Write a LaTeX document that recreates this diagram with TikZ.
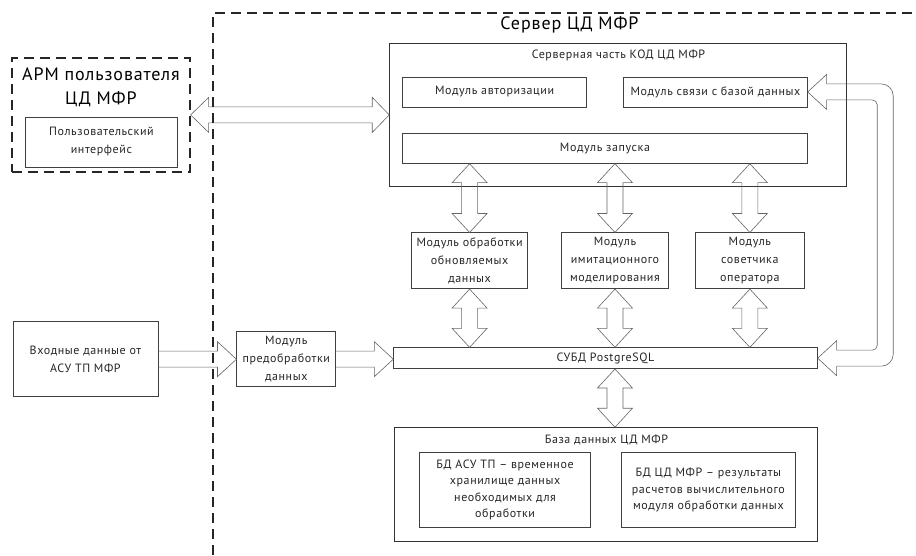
\documentclass[tikz,border=0pt]{standalone}
\usepackage{fontspec}
\setmainfont{PT Sans}[LetterSpace=5]
\usetikzlibrary{calc}

% hollow block arrows between two points
\newcommand{\blockvv}[2]{%
  \draw[blockarrow] let \p1=(#1), \p2=(#2) in
    (\x1,\y1) -- (\x1+17.5pt,\y1-19pt) -- (\x1+8pt,\y1-19pt) -- (\x1+8pt,\y2+19pt)
    -- (\x1+17.5pt,\y2+19pt) -- (\x1,\y2) -- (\x1-17.5pt,\y2+19pt) -- (\x1-8pt,\y2+19pt)
    -- (\x1-8pt,\y1-19pt) -- (\x1-17.5pt,\y1-19pt) -- cycle;}
\newcommand{\blockhh}[2]{%
  \draw[blockarrow] let \p1=(#1), \p2=(#2) in
    (\x1,\y1) -- (\x1+18pt,\y1+17.5pt) -- (\x1+18pt,\y1+8pt) -- (\x2-17pt,\y1+8pt)
    -- (\x2-17pt,\y1+17.5pt) -- (\x2,\y1) -- (\x2-17pt,\y1-17.5pt) -- (\x2-17pt,\y1-8pt)
    -- (\x1+18pt,\y1-8pt) -- (\x1+18pt,\y1-17.5pt) -- cycle;}
\newcommand{\blockh}[2]{%
  \draw[blockarrow] let \p1=(#1), \p2=(#2) in
    (\x1,\y1+8pt) -- (\x2-19pt,\y1+8pt) -- (\x2-19pt,\y1+17.5pt) -- (\x2,\y1)
    -- (\x2-19pt,\y1-17.5pt) -- (\x2-19pt,\y1-8pt) -- (\x1,\y1-8pt);}

\begin{document}
\begin{tikzpicture}
[every node/.style={inner sep=0pt, text=black!85, font=\fontsize{12}{18}\selectfont},
 box/.style={rectangle, draw=black!75, line width=0.7pt, align=center},
 groupbox/.style={rectangle, draw=black!80, line width=0.8pt},
 bigtitle/.style={font=\fontsize{18}{24}\selectfont, text=black, align=center},
 blockarrow/.style={draw=black!60, line width=0.6pt},
 borderline/.style={draw=black!85, line width=1.6pt, dash pattern=on 10pt off 6pt}]
\path[fill=white] (0pt,0pt) rectangle (916pt,-555pt);

% ARM
\node (arm) [groupbox, borderline, minimum width=178pt, minimum height=114pt] at (101pt, -115pt) {};
\node (armtitle) [bigtitle] at (101pt, -87pt) {АРМ пользователя\\ЦД МФР};
\node (ui) [box, minimum width=153pt, minimum height=50pt] at (101.5pt, -142pt) {Пользовательский\\интерфейс};

% server
\node (srvtitle) [bigtitle] at (570pt, -25pt) {Сервер ЦД МФР};
\node (srvpart) [groupbox, minimum width=457pt, minimum height=144pt] at (618.5pt, -115pt) {};
\node (srvparttitle) at (619pt, -55pt) {Серверная часть КОД ЦД МФР};
\node (auth) [box, minimum width=184pt, minimum height=30pt] at (495pt, -92pt) {Модуль авторизации};
\node (dblink) [box, minimum width=184pt, minimum height=30pt] at (716pt, -92pt) {Модуль связи с базой данных};
\node (launch) [box, minimum width=405pt, minimum height=30pt] at (605.5pt, -148.5pt) {Модуль запуска};

\node (proc) [box, minimum width=116pt, minimum height=56pt] at (470pt, -261pt) {Модуль обработки\\обновляемых\\данных};
\node (sim) [box, minimum width=107pt, minimum height=56pt] at (615.5pt, -261pt) {Модуль\\имитационного\\моделирования};
\node (adv) [box, minimum width=109pt, minimum height=56pt] at (750.5pt, -261pt) {Модуль\\советчика\\оператора};

\node (dbms) [box, minimum width=424pt, minimum height=21pt] at (606pt, -358.5pt) {СУБД PostgreSQL};

\node (db) [groupbox, minimum width=423pt, minimum height=114pt] at (606.5pt, -485pt) {};
\node (dbtitle) at (607pt, -440pt) {База данных ЦД МФР};
\node (dbtmp) [box, minimum width=171pt, minimum height=75pt, font=\fontsize{12}{16.5}\selectfont] at (505.5pt, -490.5pt) {БД АСУ ТП – временное\\хранилище данных\\необходимых для\\обработки};
\node (dbres) [box, minimum width=174pt, minimum height=75pt, font=\fontsize{12}{16.5}\selectfont] at (709pt, -490.5pt) {БД ЦД МФР – результаты\\расчетов вычислительного\\модуля обработки данных};

% input
\node (input) [box, minimum width=145pt, minimum height=75pt] at (85.5pt, -359.5pt) {Входные данные от\\АСУ ТП МФР};
\node (pre) [box, minimum width=99pt, minimum height=55pt] at (286.5pt, -359.5pt) {Модуль\\предобработки\\данных};

% arrows
\blockhh{arm.east}{srvpart.west}
\blockvv{launch.south -| proc.north}{proc.north}
\blockvv{launch.south -| sim.north}{sim.north}
\blockvv{launch.south -| adv.north}{adv.north}
\blockvv{proc.south}{dbms.north -| proc.south}
\blockvv{sim.south}{dbms.north -| sim.south}
\blockvv{adv.south}{dbms.north -| adv.south}
\blockvv{dbms.south -| sim.south}{db.north -| sim.south}
\blockh{input.east}{pre.west}
\blockh{pre.east}{dbms.west |- pre.east}

\coordinate (loopcol) at (886pt, 0pt);
\draw[blockarrow] let \p1=(dblink.east), \p2=(dbms.east), \p3=(loopcol) in
  (\x1+19pt,\y1+8pt) -- (\x1+19pt,\y1+17.5pt) -- (\x1,\y1) -- (\x1+19pt,\y1-17.5pt) -- (\x1+19pt,\y1-8pt)
  (\x2+19pt,\y2+8pt) -- (\x2+19pt,\y2+17.5pt) -- (\x2,\y2) -- (\x2+19pt,\y2-17.5pt) -- (\x2+19pt,\y2-8pt);
\draw[blockarrow, rounded corners=12pt] let \p1=(dblink.east), \p2=(dbms.east), \p3=(loopcol) in
  (\x1+19pt,\y1+8pt) -- (\x3+8pt,\y1+8pt) -- (\x3+8pt,\y2-8pt) -- (\x2+19pt,\y2-8pt);
\draw[blockarrow, rounded corners=5pt] let \p1=(dblink.east), \p2=(dbms.east), \p3=(loopcol) in
  (\x1+19pt,\y1-8pt) -- (\x3-8pt,\y1-8pt) -- (\x3-8pt,\y2+8pt) -- (\x2+19pt,\y2+8pt);

% server border
\coordinate (srvcorner) at (213pt, -13pt);
\draw[borderline] (srvcorner |- 0pt,-555pt) -- (srvcorner) -- (916pt, -13pt);
\end{tikzpicture}
\end{document}
